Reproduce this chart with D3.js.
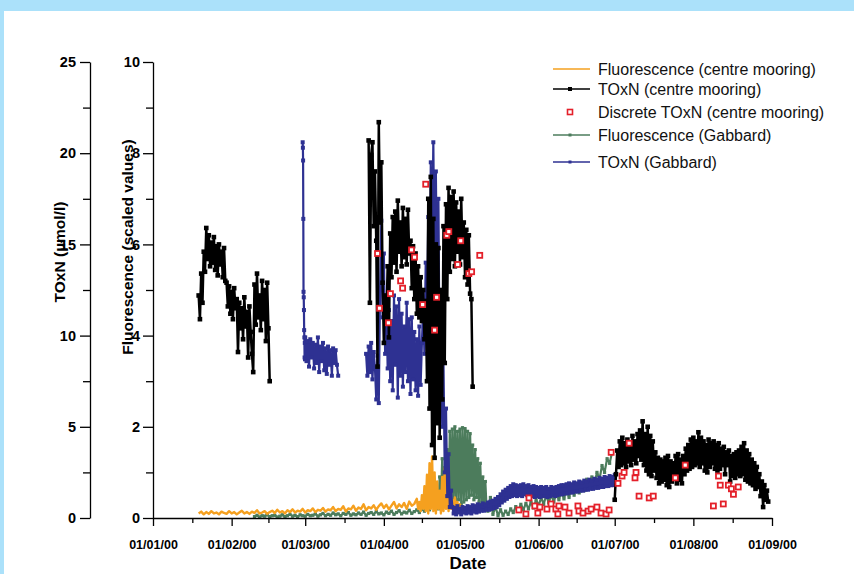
<!DOCTYPE html>
<html>
<head>
<meta charset="utf-8">
<script src="https://cdn.jsdelivr.net/npm/d3@7"></script>
<style>
  html, body { margin: 0; padding: 0; background: #fff; }
  svg { display: block; font-family: "Liberation Sans", Arial, Helvetica, sans-serif; }
</style>
</head>
<body>
<svg id="chart" width="854" height="574"></svg>
<script>
// ---- data (start = days after 01/01/00, stepH = hours between readings) ----
const toxnTicks = [0, 5, 10, 15, 20, 25];
const toxnMinor = [2.5, 7.5, 12.5, 17.5, 22.5];
const fluorTicks = [0, 2, 4, 6, 8, 10];
const fluorMinor = [1, 3, 5, 7, 9];

const toxnCentre = [
  { start: 18, stepH: 12, values: [12.2, 10.9, 13.4, 11.8, 14.6, 13.5, 15.9, 14.2, 15.5, 13.8, 15.1, 14.0, 15.4, 13.6, 14.9, 13.3, 15.0, 13.9, 14.6, 13.2, 14.8, 13.0, 12.9, 11.6, 12.7, 11.2, 12.4, 10.9, 12.6, 11.5, 12.0, 9.1, 11.8, 10.4, 11.5, 9.8, 12.1, 10.5, 11.3, 8.8, 11.6, 10.2, 9.0, 8.0, 12.8, 10.6, 13.4, 11.0, 12.2, 10.3, 13.0, 10.9, 12.5, 9.7, 12.9, 10.4, 7.5] },
  { start: 85, stepH: 12, values: [20.7, 11.8, 19.9, 20.6, 16.0, 19.0, 15.2, 8.3, 21.7, 16.2,
    19.5, 12.9, 9.6, 12.2, 10.8, 13.8, 9.9, 15.6, 13.2, 16.5,
    14.0, 16.8, 13.5, 17.4, 14.6, 16.2, 13.8, 17.0, 14.3, 16.4,
    13.9, 16.9, 14.5, 15.2, 12.6, 14.9, 12.0, 14.5, 11.2, 13.8,
    11.0, 13.2, 10.8, 12.5, 9.8, 11.9, 7.5, 17.5, 6.0, 18.7,
    4.0, 16.4, 3.3, 15.0, 5.2, 14.8, 4.4, 12.5, 6.5, 16.0,
    8.5, 17.2, 12.0, 18.1, 13.5, 17.6, 14.2, 17.9, 13.8, 17.3,
    14.6, 16.8, 13.9, 17.5, 14.3, 16.2, 13.2, 15.8, 12.8, 15.5,
    12.3, 12.0, 7.2] },
  { start: 182, stepH: 12, values: [1.0, 2.4, 3.7, 2.8, 4.2, 2.9, 4.4, 3.0, 4.1, 2.8,
    4.3, 3.1, 4.0, 2.9, 4.5, 3.2, 4.2, 3.0, 4.6, 3.4,
    4.8, 3.2, 5.3, 2.9, 4.6, 2.6, 5.0, 2.4, 4.5, 2.3,
    4.2, 2.6, 3.6, 2.2, 3.3, 1.9, 3.2, 2.0, 3.1, 2.1,
    3.3, 1.8, 3.4, 1.7, 3.1, 2.0, 3.0, 2.2, 3.4, 1.9,
    3.5, 2.1, 3.2, 1.9, 3.4, 2.4, 3.8, 2.6, 4.0, 2.7,
    4.3, 2.8, 4.4, 2.9, 4.2, 3.0, 4.7, 2.8, 4.4, 3.0,
    4.2, 2.6, 4.0, 2.5, 4.3, 2.8, 4.1, 3.0, 4.2, 2.7,
    4.0, 2.6, 4.1, 2.7, 3.8, 2.9, 3.9, 2.4, 3.6, 2.9,
    3.7, 2.0, 3.4, 2.3, 3.5, 2.2, 3.6, 2.4, 3.7, 2.3,
    3.9, 2.4, 4.1, 2.1, 3.7, 2.0, 3.5, 1.9, 3.2, 1.8,
    3.0, 1.6, 2.8, 1.7, 2.4, 1.2, 2.0, 0.6, 1.8, 1.0,
    1.5, 0.9] }
];

const fluorCentre = [
  { start: 18, stepH: 24, values: [0.10, 0.14, 0.08, 0.13, 0.09, 0.15, 0.10, 0.12, 0.08, 0.14,
    0.11, 0.09, 0.15, 0.10, 0.13, 0.08, 0.12, 0.16, 0.10, 0.13,
    0.09, 0.14, 0.11, 0.17, 0.10, 0.12, 0.15, 0.09, 0.13, 0.16,
    0.11, 0.18, 0.12, 0.15, 0.10, 0.17, 0.13, 0.19, 0.12, 0.16,
    0.14, 0.20, 0.12, 0.17, 0.15, 0.21, 0.13, 0.18, 0.16, 0.22,
    0.14, 0.19, 0.17, 0.24, 0.15, 0.20, 0.18, 0.26, 0.14, 0.21,
    0.19, 0.27, 0.16, 0.23, 0.20, 0.30, 0.17, 0.24, 0.21, 0.28,
    0.18, 0.26, 0.32, 0.22, 0.29, 0.19, 0.27, 0.35, 0.21, 0.30,
    0.24, 0.33, 0.20, 0.36, 0.27, 0.31] },
  { start: 104, stepH: 12, values: [0.42, 0.2, 0.35, 0.15, 0.5, 0.2, 0.7, 0.15, 0.95, 0.1,
    1.2, 0.2, 1.35, 0.15, 1.0, 0.1, 0.8, 0.2, 0.6, 0.1,
    0.9, 0.15, 1.1, 0.2, 0.75, 0.15, 0.55, 0.2, 0.4, 0.15,
    0.45, 0.2, 0.35, 0.15, 0.3, 0.2] }
];

const fluorGabbard = [
  { start: 40, stepH: 24, values: [0.03, 0.06, 0.02, 0.05, 0.04, 0.07, 0.03, 0.05, 0.06, 0.02, 0.04, 0.07, 0.03, 0.05, 0.08, 0.04, 0.06, 0.03, 0.07, 0.05,
    0.04, 0.08, 0.05, 0.06, 0.09, 0.04, 0.07, 0.10, 0.05, 0.08, 0.06, 0.11, 0.07, 0.09, 0.05, 0.10, 0.08, 0.12, 0.06, 0.09,
    0.07, 0.11, 0.08, 0.13, 0.06, 0.10, 0.12, 0.08, 0.14, 0.09, 0.11, 0.07, 0.13, 0.10, 0.15, 0.08, 0.12, 0.16, 0.09, 0.13,
    0.11, 0.17, 0.10, 0.14, 0.18, 0.12, 0.20, 0.15, 0.25, 0.18, 0.30, 0.22] },
  { start: 112, stepH: 12, values: [0.5, 0.2, 0.9, 0.3, 1.3, 0.4, 1.1, 0.35, 1.5, 0.3,
    1.9, 0.4, 1.95, 0.3, 2.0, 0.35, 1.9, 0.4, 1.95, 0.3,
    1.98, 0.35, 1.96, 0.4, 1.9, 0.45, 1.85, 0.5, 1.6, 0.4,
    1.5, 0.45, 1.3, 0.35, 1.2, 0.3, 0.9, 0.25, 0.8, 0.2] },
  { start: 132, stepH: 24, values: [0.15, 0.45, 0.08, 0.25, 0.05, 0.18, 0.06, 0.15, 0.08, 0.2,
    0.12, 0.25, 0.15, 0.3, 0.18, 0.32, 0.2, 0.35, 0.22, 0.4,
    0.27, 0.45, 0.3, 0.5, 0.33, 0.52, 0.35, 0.55, 0.4, 0.58,
    0.42, 0.62, 0.45, 0.65, 0.5, 0.7, 0.55, 0.78, 0.6, 0.85,
    0.68, 0.9, 0.75, 1.0, 0.85, 1.15, 1.0, 1.3, 1.2, 1.45] }
];

const toxnGabbard = [
  { start: 59, stepH: 2, values: [20.6, 20.3, 19.6, 16.4, 12.4, 12.1, 11.4, 10.3, 9.9, 8.8, 9.6, 8.7] },
  { start: 60, stepH: 12, values: [9.9, 8.6, 9.7, 8.3, 9.8, 8.8, 9.6, 8.2, 9.5, 8.5, 9.9, 8.0, 9.4, 8.6, 9.6, 8.1, 9.3, 7.9, 9.4, 8.4, 9.2, 7.8, 9.3, 8.5, 9.2, 8.4, 7.8] },
  { start: 84, stepH: 12, values: [9.0, 7.8, 9.4, 8.0, 9.6, 7.6, 9.1, 8.2, 6.5, 8.9,
    6.3, 12.5, 16.3, 11.0, 14.5, 9.0, 12.1, 8.2, 11.4, 7.5,
    10.8, 7.0, 12.2, 8.4, 11.6, 6.6, 12.0, 7.8, 11.2, 7.2,
    10.5, 8.0, 11.8, 7.5, 10.9, 6.8, 11.0, 7.6, 10.2, 7.0,
    9.8, 6.7, 10.5, 7.3, 9.6, 11.5, 9.0, 14.0, 10.5, 16.5,
    12.0, 19.5, 14.0, 20.6, 13.0, 19.0, 11.5, 17.5, 8.0, 12.0,
    5.0, 8.5, 2.5, 6.0, 1.2, 3.5, 0.6, 1.5] },
  { start: 118, stepH: 12, values: [0.6, 0.25, 0.55, 0.2, 0.65, 0.3, 0.5, 0.2, 0.6, 0.3,
    0.55, 0.25, 0.65, 0.3, 0.6, 0.25, 0.7, 0.35, 0.65, 0.3,
    0.75, 0.35, 0.7, 0.4, 0.8, 0.4, 0.75, 0.45, 0.85, 0.45,
    0.9, 0.5, 0.95, 0.55, 1.05, 0.6, 1.15, 0.7, 1.3, 0.85,
    1.45, 0.95, 1.55, 1.05, 1.65, 1.15, 1.75, 1.2, 1.85, 1.25,
    1.8, 1.2, 1.75, 1.25, 1.8, 1.2, 1.85, 1.3, 1.75, 1.25,
    1.8, 1.2, 1.7, 1.2, 1.75, 1.15, 1.7, 1.2, 1.65, 1.15,
    1.7, 1.2, 1.65, 1.2, 1.7, 1.15, 1.6, 1.2, 1.7, 1.25,
    1.65, 1.2, 1.7, 1.25, 1.75, 1.3, 1.8, 1.3, 1.8, 1.35,
    1.85, 1.35, 1.9, 1.4, 1.85, 1.4, 1.95, 1.45, 1.9, 1.45,
    2.0, 1.5, 1.95, 1.5, 2.05, 1.55, 2.0, 1.55, 2.1, 1.6,
    2.05, 1.6, 2.15, 1.65, 2.1, 1.65, 2.2, 1.7, 2.15, 1.7,
    2.25, 1.75, 2.2, 1.75, 2.3, 1.8, 2.25, 1.8, 2.35] }
];

const discreteDay = [88.5, 89.3, 92.8, 93.6, 97.6, 98.4, 101.9, 103.1, 106.3, 107.5, 111.0, 111.8, 115.8, 116.6, 120.1, 121.3, 124.5, 125.6, 128.8,
  144.2, 147.0, 148.2, 150.5, 151.7, 152.5, 155.3, 156.9, 158.8, 159.6, 160.0, 162.4, 164.0, 167.5, 167.9, 169.5, 171.5, 172.7, 175.0, 176.6, 178.6, 179.8,
  180.6, 183.3, 184.9, 185.7, 187.7, 190.0, 190.4, 191.6, 195.6, 197.2, 205.9, 209.8, 220.9, 222.9, 223.6, 224.8, 226.8, 228.0, 228.8, 230.7];
const discreteToxn = [14.5, 11.5, 10.7, 12.3, 13.0, 12.6, 14.7, 14.3, 11.7, 18.3, 10.3, 12.1, 15.5, 15.7, 13.9, 15.2, 13.4, 13.5, 14.4,
  0.44, 0.22, 1.1, 0.66, 0.27, 0.6, 0.49, 0.77, 0.49, 0.22, 0.66, 0.6, 0.27, 0.66, 0.38, 0.27, 0.38, 0.49, 0.6, 0.27, 0.22, 0.44,
  3.6, 1.9, 2.3, 2.5, 4.1, 2.2, 2.5, 1.2, 1.1, 1.2, 2.2, 2.9, 0.66, 2.3, 1.8, 0.77, 1.8, 1.6, 1.3, 1.7];

const legendLabels = [
  "Fluorescence (centre mooring)",
  "TOxN (centre mooring)",
  "Discrete TOxN (centre mooring)",
  "Fluorescence (Gabbard)",
  "TOxN (Gabbard)"
];

// ---- chart ----
const COLORS = { orange: "#f5a01f", black: "#000000", red: "#e4202a", green: "#4c7c5c", blue: "#2e3192" };
const T0 = Date.UTC(2000, 0, 1);
const dayToDate = (d) => new Date(T0 + d * 864e5);

const svg = d3.select("#chart");
svg.append("rect").attr("width", 854).attr("height", 574).attr("fill", "#abe1fa");
svg.append("rect").attr("x", 4).attr("y", 11).attr("width", 850).attr("height", 563).attr("fill", "#ffffff");

const x = d3.scaleUtc().domain([dayToDate(0), new Date(Date.UTC(2000, 8, 1))]).range([153, 772]);
const yN = d3.scaleLinear().domain([0, 25]).range([518, 62]);
const yF = d3.scaleLinear().domain([0, 10]).range([518, 62]);

function toPoints(segs) {
  const pts = [];
  segs.forEach((s) => s.values.forEach((v, i) => pts.push({ t: new Date(T0 + (s.start * 24 + i * s.stepH) * 36e5), v })));
  return pts;
}
// break the line where readings stop for more than two days
function toRuns(pts) {
  const runs = [];
  let cur = [];
  pts.forEach((p, i) => {
    if (i > 0 && p.t - pts[i - 1].t > 2 * 864e5) { runs.push(cur); cur = []; }
    cur.push(p);
  });
  if (cur.length) runs.push(cur);
  return runs;
}

const plot = svg.append("g").attr("class", "plot");

function drawSeries(segs, y, color, lineW, markSize) {
  const pts = toPoints(segs);
  const g = plot.append("g");
  const line = d3.line().x((d) => x(d.t)).y((d) => y(d.v));
  g.selectAll("path")
    .data(toRuns(pts))
    .join("path")
    .attr("d", line)
    .attr("fill", "none")
    .attr("stroke", color)
    .attr("stroke-width", lineW)
    .attr("stroke-linejoin", "round");
  if (markSize > 0) {
    g.selectAll("rect")
      .data(pts)
      .join("rect")
      .attr("x", (d) => x(d.t) - markSize / 2)
      .attr("y", (d) => y(d.v) - markSize / 2)
      .attr("width", markSize)
      .attr("height", markSize)
      .attr("fill", color);
  }
}

drawSeries(fluorGabbard, yF, COLORS.green, 2.2, 3.2);
drawSeries(fluorCentre, yF, COLORS.orange, 2.4, 0);
drawSeries(toxnGabbard, yN, COLORS.blue, 2.2, 4);
drawSeries(toxnCentre, yN, COLORS.black, 2.5, 4.6);

plot.append("g")
  .selectAll("rect")
  .data(discreteDay.map((d, i) => ({ t: dayToDate(d), v: discreteToxn[i] })))
  .join("rect")
  .attr("x", (d) => x(d.t) - 2.5)
  .attr("y", (d) => yN(d.v) - 2.5)
  .attr("width", 5)
  .attr("height", 5)
  .attr("fill", "#ffffff")
  .attr("stroke", COLORS.red)
  .attr("stroke-width", 1.8);

// ---- axes ----
function styleAxis(g, fontSize) {
  g.selectAll("path, line").attr("stroke", "#000").attr("stroke-width", 1.3);
  g.selectAll("text").attr("fill", "#000").style("font-size", fontSize + "px").style("font-weight", "bold");
}

const months = d3.utcMonth.range(x.domain()[0], d3.utcDay.offset(x.domain()[1], 1));
const midMonths = d3.pairs(months).map(([a, b]) => new Date((+a + +b) / 2));

const gx = svg.append("g").attr("transform", "translate(0,518)");
gx.call(d3.axisBottom(x).tickValues(months).tickFormat(d3.utcFormat("%d/%m/%y")).tickSize(8).tickPadding(14).tickSizeOuter(0));
gx.append("g").call(d3.axisBottom(x).tickValues(midMonths).tickFormat("").tickSize(5)).select(".domain").remove();
styleAxis(gx, 12.5);

const gN = svg.append("g").attr("transform", "translate(90,0)");
gN.call(d3.axisLeft(yN).tickValues(toxnTicks).tickSize(10).tickPadding(4).tickSizeOuter(0));
gN.append("g").call(d3.axisLeft(yN).tickValues(toxnMinor).tickFormat("").tickSize(7)).select(".domain").remove();
styleAxis(gN, 14.5);

const gF = svg.append("g").attr("transform", "translate(153,0)");
gF.call(d3.axisLeft(yF).tickValues(fluorTicks).tickSize(10).tickPadding(3).tickSizeOuter(0));
gF.append("g").call(d3.axisLeft(yF).tickValues(fluorMinor).tickFormat("").tickSize(7)).select(".domain").remove();
styleAxis(gF, 14.5);

svg.append("text")
  .attr("transform", "translate(65,252) rotate(-90)")
  .attr("text-anchor", "middle")
  .style("font-size", "15.5px").style("font-weight", "bold")
  .text("TOxN (\u00b5mol/l)");
svg.append("text")
  .attr("transform", "translate(133,247) rotate(-90)")
  .attr("text-anchor", "middle")
  .style("font-size", "15.5px").style("font-weight", "bold")
  .text("Fluorescence (scaled values)");
svg.append("text")
  .attr("x", 468).attr("y", 569)
  .attr("text-anchor", "middle")
  .style("font-size", "17px").style("font-weight", "bold")
  .text("Date");

// ---- legend ----
const legendRows = [
  { color: COLORS.orange, line: true, mark: 0, open: false },
  { color: COLORS.black, line: true, mark: 4, open: false },
  { color: COLORS.red, line: false, mark: 5, open: true },
  { color: COLORS.green, line: true, mark: 3, open: false },
  { color: COLORS.blue, line: true, mark: 3, open: false }
];
const rowY = [69, 89, 112, 135, 162];
const legend = svg.append("g").attr("class", "legend");
legendRows.forEach((r, i) => {
  const g = legend.append("g").attr("transform", `translate(553,${rowY[i]})`);
  if (r.line) g.append("line").attr("x1", 0).attr("x2", 37).attr("stroke", r.color).attr("stroke-width", r.color === COLORS.orange ? 1.5 : 1.3);
  if (r.mark) {
    g.append("rect")
      .attr("x", 17 - r.mark / 2).attr("y", -r.mark / 2)
      .attr("width", r.mark).attr("height", r.mark)
      .attr("fill", r.open ? "#fff" : r.color)
      .attr("stroke", r.open ? r.color : "none")
      .attr("stroke-width", 1.6);
  }
  g.append("text")
    .attr("x", 45).attr("dy", "0.35em")
    .attr("fill", "#111")
    .style("font-size", "16px")
    .text(legendLabels[i]);
});
</script>
</body>
</html>
